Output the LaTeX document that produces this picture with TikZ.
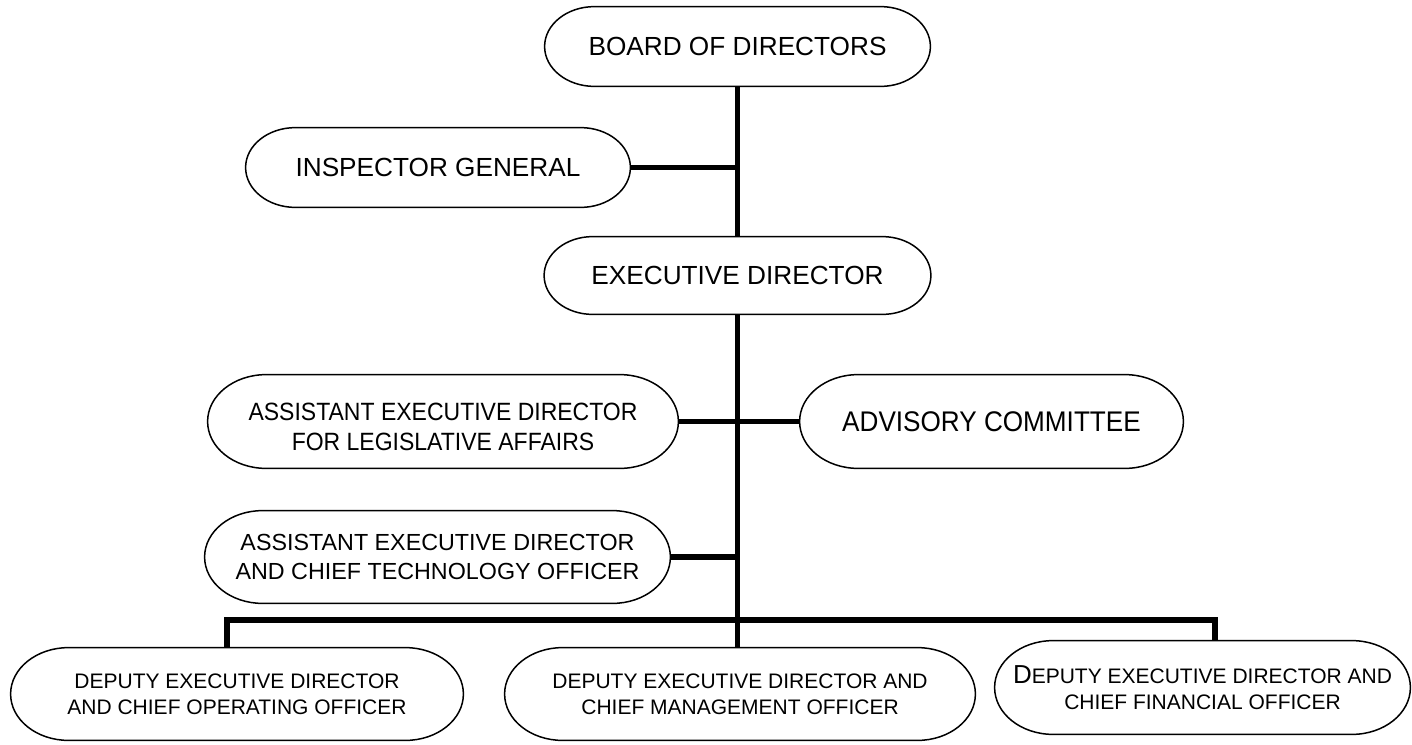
\documentclass[tikz,border=0pt]{standalone}
\usepackage{fontspec}
\setmainfont{Liberation Sans}
\newfontfamily\narrowfont[FakeStretch=0.92]{Liberation Sans}
\usetikzlibrary{calc}
\tikzset{
  box/.style={inner sep=0pt, align=center, draw=none},
  pillline/.style={draw=black, line width=0.75pt},
  conn/.style={draw=black, line width=2.6pt},
}
\newcommand\pillbox[1]{%
  \draw[pillline] let \p1=(#1.north west), \p2=(#1.south east),
    \n1={(\y1-\y2)/2}, \n2={1.25*\n1} in
    (\x1+\n2,\y1) -- (\x2-\n2,\y1)
    arc[start angle=90,end angle=-90,x radius=\n2,y radius=\n1]
    -- (\x1+\n2,\y2)
    arc[start angle=270,end angle=90,x radius=\n2,y radius=\n1] -- cycle;}
\begin{document}
\begin{tikzpicture}[x=0.5pt,y=-0.5pt]
\useasboundingbox (0,0) rectangle (1412,744);
\fill[white] (0,0) rectangle (1412,744);

\node[box, minimum width=192.5pt, minimum height=39.5pt, font=\fontsize{13.1}{15.7}\selectfont] (board) at (737.5,46.5) {BOARD OF DIRECTORS};
\node[box, minimum width=192pt, minimum height=39.5pt, font=\fontsize{13.1}{15.7}\selectfont] (insp) at (438,167.5) {INSPECTOR GENERAL};
\node[box, minimum width=193pt, minimum height=38.5pt, font=\fontsize{13.1}{15.7}\selectfont] (exec) at (737.5,275.5) {EXECUTIVE DIRECTOR};
\node[box, minimum width=235pt, minimum height=46.5pt, font=\narrowfont\fontsize{12.5}{14.8}\selectfont] (legis) at (443,421.5) {\rule{0pt}{14pt}ASSISTANT EXECUTIVE DIRECTOR\\FOR LEGISLATIVE AFFAIRS};
\node[box, minimum width=191.5pt, minimum height=46.5pt, font=\narrowfont\fontsize{14.2}{17}\selectfont] (adv) at (991.5,421.5) {ADVISORY COMMITTEE};
\node[box, minimum width=232.5pt, minimum height=46pt, font=\fontsize{11.65}{14.5}\selectfont] (cto) at (437.5,557) {ASSISTANT EXECUTIVE DIRECTOR\\AND CHIEF TECHNOLOGY OFFICER};
\node[box, minimum width=226pt, minimum height=46pt, font=\fontsize{10.5}{13}\selectfont] (coo) at (237,694) {DEPUTY EXECUTIVE DIRECTOR\\AND CHIEF OPERATING OFFICER};
\node[box, minimum width=235pt, minimum height=46pt, font=\fontsize{10.5}{13}\selectfont] (cmo) at (740,694) {DEPUTY EXECUTIVE DIRECTOR AND\\CHIEF MANAGEMENT OFFICER};
\node[box, minimum width=207.5pt, minimum height=46.5pt, font=\fontsize{10.5}{13}\selectfont] (cfo) at (1202.5,687.5) {{\fontsize{13}{13}\selectfont D}EPUTY EXECUTIVE DIRECTOR AND\\CHIEF FINANCIAL OFFICER};

\foreach \bx in {board,insp,exec,legis,adv,cto,coo,cmo,cfo}{\pillbox{\bx}}

\coordinate (busL) at (227,620);
\coordinate (busR) at (1215,620);

\draw[conn] (board.south) -- (exec.north);
\draw[conn] (insp.east) -- (insp.east -| board.south);
\draw[conn] (exec.south) -- (exec.south |- cmo.north);
\draw[conn] (legis.east) -- (adv.west);
\draw[conn] (cto.east) -- (cto.east -| exec.south);
\draw[conn] (coo.north -| busL) -- (busL) -- (busR) -- (cfo.north -| busR);
\end{tikzpicture}
\end{document}
